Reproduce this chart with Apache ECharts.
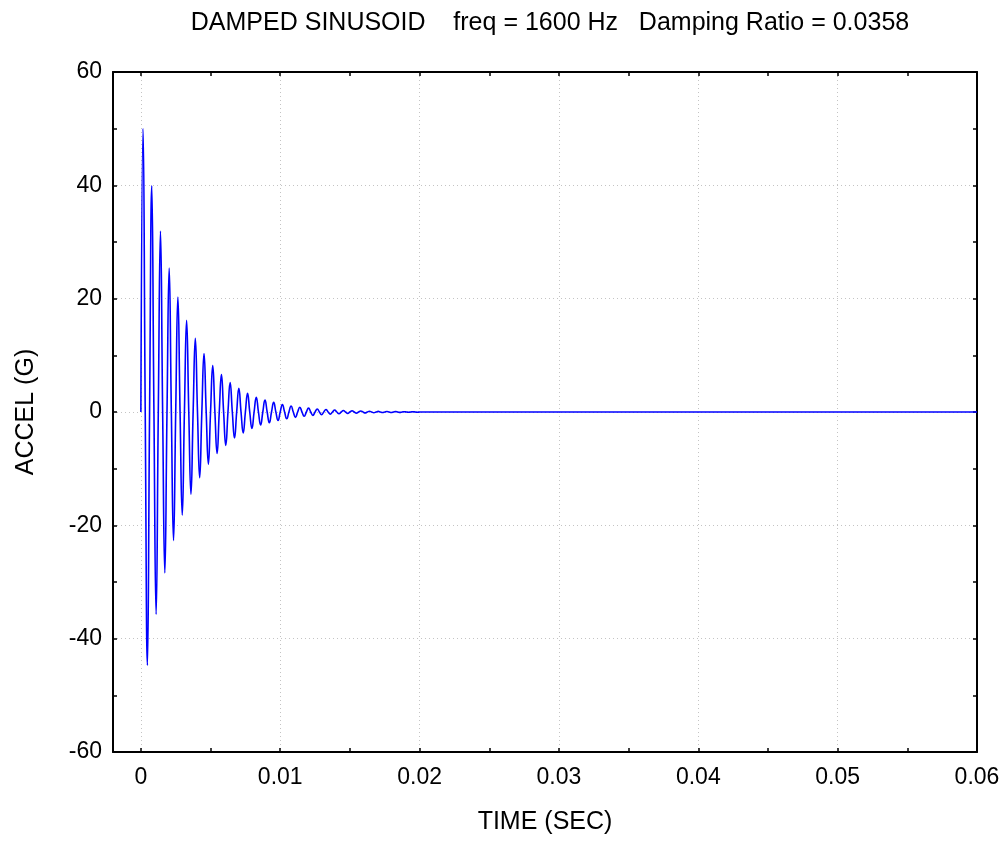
<!DOCTYPE html>
<html>
<head>
<meta charset="utf-8">
<title>Damped sinusoid</title>
<script src="https://cdn.jsdelivr.net/npm/echarts@6/dist/echarts.min.js"></script>
<style>
    html, body { margin: 0; padding: 0; background: #fff; }
    #main { width: 1006px; height: 844px; }
</style>
</head>
<body>
<div id="main"></div>
<script>
// values
var titleText = 'DAMPED SINUSOID    freq = 1600 Hz   Damping Ratio = 0.0358';
var halfPeriod = 0.0003125; // half cycle of 1600 Hz
// successive peak / trough values, one per half cycle (G)
var extrema = [
    50.0, -44.7, 39.9, -35.7, 31.9, -28.4, 25.4, -22.7, 20.3, -18.2,
    16.2, -14.5, 13.0, -11.6, 10.3, -9.2, 8.2, -7.3, 6.6, -5.9,
    5.2, -4.6, 4.2, -3.7, 3.3, -2.9, 2.6, -2.3, 2.1, -1.9,
    1.7, -1.5, 1.3, -1.2, 1.06, -0.95, 0.85, -0.76, 0.68, -0.6,
    0.54, -0.48, 0.43, -0.38, 0.34, -0.3, 0.27, -0.24, 0.22, -0.19,
    0.17, -0.15, 0.14, -0.12, 0.11, -0.1, 0.09, -0.08, 0.07, -0.06,
    0.05, -0.05, 0.04, -0.04
];
var endTime = 0.06;
var xMajorTicks = [0, 0.01, 0.02, 0.03, 0.04, 0.05, 0.06];
var xAllTicks = [0, 0.005, 0.01, 0.015, 0.02, 0.025, 0.03, 0.035, 0.04, 0.045, 0.05, 0.055, 0.06];

var data = [[0, 0]];
for (var i = 0; i < extrema.length; i++) {
    data.push([(i + 0.5) * halfPeriod, extrema[i]]);
    data.push([(i + 1) * halfPeriod, 0]);
}
data.push([endTime, 0]);

var font = 'Liberation Sans, Arial, sans-serif';
var gridLine = { show: true, lineStyle: { color: '#c4c4c4', type: [1, 3], width: 1 } };
var border = { show: true, onZero: false, lineStyle: { color: '#000', width: 2 } };

var myChart = echarts.init(document.getElementById('main'));
var option = {
    animation: false,
    backgroundColor: '#fff',
    title: {
        text: titleText,
        left: 545,
        top: 6,
        textAlign: 'center',
        textStyle: { fontFamily: font, fontSize: 25, fontWeight: 'normal', color: '#000' }
    },
    grid: { left: 113, right: 29, top: 72, bottom: 92, containLabel: false },
    xAxis: [
        {
            type: 'value', position: 'bottom', min: -0.002, max: 0.06,
            axisLine: border,
            axisTick: { show: true, inside: true, length: 4, customValues: xAllTicks, lineStyle: { color: '#000', width: 1.5 } },
            splitLine: { show: false },
            axisLabel: {
                customValues: xMajorTicks, margin: 14,
                fontFamily: font, fontSize: 23, color: '#000',
                formatter: function (v) { return +v.toFixed(3) + ''; }
            },
            name: 'TIME (SEC)', nameLocation: 'middle', nameGap: 58,
            nameTextStyle: { fontFamily: font, fontSize: 25, color: '#000' }
        },
        {
            type: 'value', position: 'top', min: -0.002, max: 0.06,
            axisLine: border,
            axisTick: { show: true, inside: true, length: 4, customValues: xAllTicks, lineStyle: { color: '#000', width: 1.5 } },
            axisLabel: { show: false },
            splitLine: { show: false }
        },
        {
            type: 'value', position: 'bottom', min: -0.002, max: 0.06,
            axisLine: { show: false },
            axisTick: { show: false, customValues: xMajorTicks },
            axisLabel: { show: false },
            splitLine: gridLine
        }
    ],
    yAxis: [
        {
            type: 'value', position: 'left', min: -60, max: 60, interval: 20,
            axisLine: border,
            axisTick: { show: true, inside: true, length: 4, lineStyle: { color: '#000', width: 1.5 } },
            minorTick: { show: true, splitNumber: 2, length: 4, lineStyle: { color: '#000', width: 1.5 } },
            splitLine: gridLine,
            axisLabel: { margin: 11, padding: [5, 0, 0, 0], fontFamily: font, fontSize: 23, color: '#000' },
            name: 'ACCEL (G)', nameLocation: 'middle', nameGap: 74,
            nameTextStyle: { fontFamily: font, fontSize: 25, color: '#000' }
        },
        {
            type: 'value', position: 'right', min: -60, max: 60, interval: 20,
            axisLine: border,
            axisTick: { show: true, inside: true, length: 4, lineStyle: { color: '#000', width: 1.5 } },
            minorTick: { show: true, splitNumber: 2, length: 4, lineStyle: { color: '#000', width: 1.5 } },
            splitLine: { show: false },
            axisLabel: { show: false }
        }
    ],
    series: [
        {
            type: 'line',
            xAxisIndex: 0,
            yAxisIndex: 0,
            data: data,
            showSymbol: false,
            smooth: 0.5,
            lineStyle: { color: '#0000ff', width: 1.6 }
        }
    ]
};
myChart.setOption(option);
</script>
</body>
</html>
